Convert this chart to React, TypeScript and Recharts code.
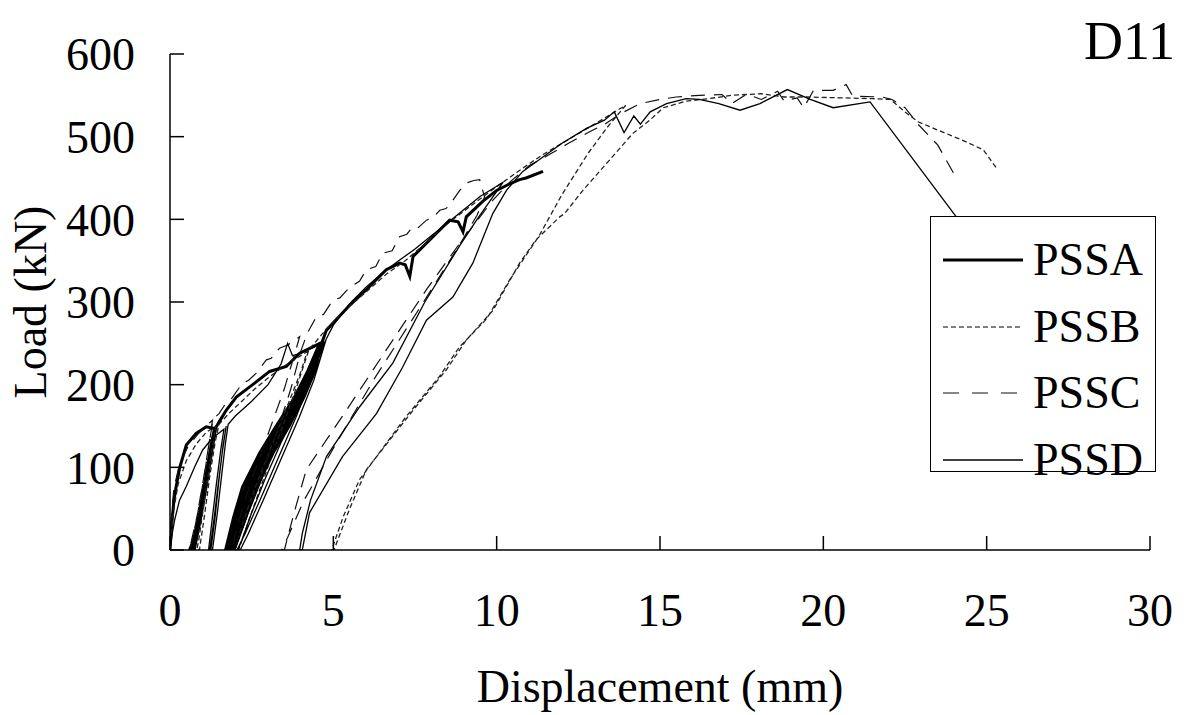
import React from 'react';
import { LineChart, Line, XAxis, YAxis, Legend, Label } from 'recharts';

const FONT = "'Liberation Serif', 'Times New Roman', serif";

const X_TICKS = [0, 5, 10, 15, 20, 25, 30];
const Y_TICKS = [0, 100, 200, 300, 400, 500, 600];

// displacement (mm), load (kN) pairs, in test order
const PSSA_RAW = [
  [0, 0], [0.05, 30], [0.12, 60], [0.19, 77], [0.3, 100], [0.5, 127], [0.8, 141], [1.11, 149], [1.36, 147],
  [1.25, 125], [1.1, 90], [0.9, 45], [0.72, 12], [0.6, 0], [0.68, 0], [0.85, 30], [1.05, 75], [1.22, 115], [1.36, 146],
  [1.28, 130], [1.15, 95], [0.95, 50], [0.78, 15], [0.66, 0], [0.74, 0], [0.92, 35], [1.12, 80], [1.28, 120], [1.4, 148],
  [1.55, 158], [1.72, 169], [2.03, 185], [2.53, 200], [3.05, 216], [3.56, 222], [3.97, 238], [4.48, 248], [4.58, 250],
  [4.2, 215], [3.76, 181], [3.25, 150], [2.74, 117], [2.22, 76], [1.95, 40], [1.7, 0],
  [1.78, 0], [2.1, 35], [2.45, 76], [2.95, 117], [3.45, 150], [3.95, 185], [4.3, 215], [4.6, 250],
  [4.28, 215], [3.85, 181], [3.35, 150], [2.84, 117], [2.32, 76], [2.03, 40], [1.78, 0],
  [1.86, 0], [2.18, 35], [2.55, 76], [3.05, 117], [3.55, 150], [4.03, 185], [4.36, 215], [4.63, 250],
  [4.35, 215], [3.93, 181], [3.45, 150], [2.94, 117], [2.42, 76], [2.12, 40], [1.86, 0],
  [1.94, 0], [2.27, 35], [2.65, 76], [3.15, 117], [3.65, 150], [4.1, 185], [4.42, 215], [4.66, 252],
  [4.79, 266], [5.5, 296], [6.01, 315], [6.62, 339], [7.03, 347], [7.2, 345], [7.34, 331], [7.44, 355],
  [8.05, 379], [8.56, 399], [8.82, 397], [8.97, 385], [9.07, 403], [9.58, 422], [10.0, 435], [10.4, 443],
  [10.7, 448], [10.9, 450], [11.42, 458],
];

const PSSB_RAW = [
  [0, 0], [0.1, 45], [0.25, 80], [0.5, 108], [0.8, 128], [1.1, 142], [1.4, 150],
  [1.3, 125], [1.15, 85], [1.0, 45], [0.88, 12], [0.82, 0], [0.9, 0], [1.05, 40], [1.22, 90], [1.38, 130], [1.5, 152],
  [1.8, 165], [2.2, 180], [2.6, 195], [3.0, 208], [3.4, 220], [3.8, 230], [4.2, 240],
  [4.0, 215], [3.6, 175], [3.1, 125], [2.6, 75], [2.2, 30], [2.0, 0], [2.1, 0], [2.45, 40], [2.95, 95],
  [3.45, 150], [3.9, 200], [4.25, 242],
  [4.8, 268], [5.4, 292], [6.0, 312], [6.6, 333], [7.2, 350], [7.8, 370], [8.4, 392], [9.0, 410], [9.6, 428],
  [10.2, 445], [10.8, 462], [11.4, 478], [12.0, 492], [12.6, 506], [13.2, 520], [13.7, 532], [13.95, 538],
  [13.4, 512], [12.8, 480], [12.0, 430], [11.3, 380], [10.4, 327], [9.7, 280], [8.85, 245], [8.25, 210],
  [7.2, 160], [5.8, 85], [5.3, 40], [4.95, 0],
  [5.02, 0], [5.5, 50], [6.01, 97], [7.44, 169], [8.46, 218], [9.07, 254], [9.89, 290], [10.7, 347], [11.2, 375],
  [11.93, 403], [12.08, 407], [12.64, 435], [13.46, 472], [14.17, 504], [14.69, 520], [15.1, 535], [15.8, 543],
  [16.5, 546], [17.2, 550], [18.1, 552], [18.8, 548], [19.5, 548], [20.5, 547], [21.5, 546], [22.05, 545],
  [22.5, 530], [22.9, 518], [23.5, 508], [24.3, 495], [24.9, 484], [25.3, 462],
];

const PSSC_RAW = [
  [0, 0], [0.04, 40], [0.12, 75], [0.3, 105], [0.55, 125], [0.85, 140], [1.1, 150], [1.3, 157],
  [1.2, 130], [1.05, 90], [0.85, 45], [0.65, 10], [0.55, 0], [0.62, 0], [0.8, 35], [1.0, 80], [1.18, 125], [1.32, 158],
  [1.5, 165], [1.72, 178], [1.9, 184], [2.22, 202], [2.4, 205], [2.64, 214], [2.95, 230], [3.1, 232],
  [3.35, 244], [3.6, 248], [3.97, 258],
  [3.8, 235], [3.5, 195], [3.0, 140], [2.5, 85], [2.1, 35], [1.9, 0], [1.98, 0], [2.3, 35], [2.75, 85],
  [3.25, 140], [3.7, 195], [4.0, 240], [4.2, 262],
  [4.48, 282], [4.7, 285], [4.98, 302], [5.2, 305], [5.5, 318], [5.8, 325], [6.01, 339], [6.3, 343],
  [6.51, 359], [6.8, 362], [7.03, 379], [7.25, 382], [7.43, 391], [7.6, 390], [7.85, 399], [8.05, 402],
  [8.26, 411], [8.45, 413], [8.66, 423], [8.87, 435], [9.07, 444], [9.3, 447], [9.48, 448], [9.63, 427],
  [9.4, 405], [8.8, 365], [7.6, 290], [6.3, 210], [5.1, 130], [4.1, 60], [3.6, 15], [3.42, 0],
  [3.5, 0], [3.8, 45], [4.17, 97], [5.4, 169], [6.62, 242], [7.85, 315], [8.87, 371], [9.88, 423],
  [10.4, 445], [11.0, 465], [11.6, 478], [12.2, 492], [12.8, 505], [13.3, 515], [13.8, 528], [14.4, 540],
  [15.0, 545], [15.5, 548], [16.2, 550], [16.9, 551], [17.2, 540], [17.6, 550], [17.9, 548], [18.1, 545],
  [18.6, 555], [18.8, 543], [19.2, 547], [19.4, 535], [19.7, 556], [20.3, 556], [20.7, 563], [20.9, 549],
  [21.8, 548], [22.1, 545], [22.5, 535], [22.9, 515], [23.5, 490], [24.1, 448],
];

const PSSD_RAW = [
  [0, 0], [0.07, 20], [0.14, 36], [0.29, 60], [0.5, 77], [0.75, 100], [1.0, 121], [1.25, 133], [1.45, 140], [1.65, 146],
  [1.55, 120], [1.42, 80], [1.3, 40], [1.18, 0], [1.25, 0], [1.38, 40], [1.5, 85], [1.62, 125], [1.72, 150],
  [1.6, 118], [1.47, 78], [1.35, 38], [1.22, 0], [1.3, 0], [1.45, 45], [1.58, 90], [1.7, 130], [1.78, 152],
  [2.0, 162], [2.5, 180], [3.0, 200], [3.4, 225], [3.6, 250], [3.75, 235], [4.0, 238], [4.4, 245], [4.7, 252],
  [4.55, 235], [4.3, 210], [3.85, 175], [3.3, 130], [2.8, 85], [2.4, 45], [2.1, 12], [1.98, 0],
  [2.05, 0], [2.3, 20], [2.75, 60], [3.3, 110], [3.85, 160], [4.3, 205], [4.72, 252],
  [4.6, 232], [4.35, 207], [3.95, 175], [3.4, 130], [2.9, 85], [2.5, 45], [2.2, 12], [2.08, 0],
  [2.15, 0], [2.4, 20], [2.85, 60], [3.4, 110], [3.95, 160], [4.4, 205], [4.78, 255],
  [5.0, 272], [5.5, 298], [6.0, 318], [6.5, 335], [7.0, 350], [7.5, 364], [8.0, 380], [8.5, 396], [9.0, 412],
  [9.5, 428], [10.0, 440], [10.2, 445],
  [9.9, 428], [9.4, 400], [8.9, 370], [7.8, 300], [6.82, 226], [5.8, 173], [4.79, 113], [4.3, 60], [4.05, 20], [3.97, 0],
  [4.05, 0], [4.27, 45], [5.28, 113], [6.32, 165], [7.12, 221], [7.85, 278], [8.66, 306], [9.27, 347],
  [9.88, 407], [10.3, 435], [10.8, 458], [11.3, 472], [12.0, 492], [12.75, 510], [13.3, 520], [13.6, 530],
  [13.9, 505], [14.2, 525], [14.4, 515], [14.7, 530], [15.2, 540], [15.8, 546], [16.2, 545], [16.8, 540],
  [17.45, 532], [18.06, 540], [18.9, 557], [19.6, 545], [20.3, 535], [21.43, 542], [24.03, 405], [24.6, 375],
];

const toPts = (a: number[][]) => a.map(([x, y]) => ({ x, y }));

const SERIES = [
  { name: 'PSSA', data: toPts(PSSA_RAW), stroke: '#000', width: 3, dash: undefined },
  { name: 'PSSB', data: toPts(PSSB_RAW), stroke: '#222', width: 1.3, dash: '5 3' },
  { name: 'PSSC', data: toPts(PSSC_RAW), stroke: '#111', width: 1.2, dash: '14 9' },
  { name: 'PSSD', data: toPts(PSSD_RAW), stroke: '#000', width: 1.3, dash: undefined },
];

const LegendBox = () => (
  <div
    style={{
      boxSizing: 'border-box',
      width: 226,
      height: 256,
      border: '1.5px solid #000',
      background: '#fff',
      paddingTop: 10,
      fontFamily: FONT,
      fontSize: 46,
    }}
  >
    {SERIES.map((s) => (
      <div key={s.name} style={{ display: 'flex', alignItems: 'center', height: 66.5 }}>
        <svg width={100} height={20}>
          <line
            x1={12}
            x2={92}
            y1={10}
            y2={10}
            stroke={s.name === 'PSSB' ? '#555' : s.stroke}
            strokeWidth={s.width}
            strokeDasharray={s.name === 'PSSC' ? '16 13' : s.dash}
          />
        </svg>
        <span style={{ marginLeft: 2, lineHeight: 1 }}>{s.name}</span>
      </div>
    ))}
  </div>
);

export default function App() {
  return (
    <div style={{ position: 'absolute', left: 0, top: 0, width: 1189, height: 715, background: '#fff' }}>
      <LineChart width={1189} height={715} margin={{ top: 54, right: 39, bottom: 0, left: 0 }}>
        <XAxis
          dataKey="x"
          type="number"
          domain={[0, 30]}
          ticks={X_TICKS}
          allowDataOverflow
          height={165}
          stroke="#000"
          strokeWidth={1.5}
          tickSize={-14}
          tickMargin={57}
          tick={{ fill: '#000', fontSize: 46, fontFamily: FONT }}
        >
          <Label
            value="Displacement (mm)"
            position="insideBottom"
            offset={13}
            style={{ fill: '#000', fontSize: 46, fontFamily: FONT }}
          />
        </XAxis>
        <YAxis
          type="number"
          domain={[0, 600]}
          ticks={Y_TICKS}
          allowDataOverflow
          width={170}
          stroke="#000"
          strokeWidth={1.5}
          tickSize={-14}
          tickMargin={49}
          tick={{ fill: '#000', fontSize: 46, fontFamily: FONT }}
        >
          <Label
            value="Load (kN)"
            angle={-90}
            position="insideLeft"
            offset={30}
            style={{ fill: '#000', fontSize: 46, fontFamily: FONT, textAnchor: 'middle' }}
          />
        </YAxis>
        {SERIES.map((s) => (
          <Line
            key={s.name}
            data={s.data}
            dataKey="y"
            name={s.name}
            type="linear"
            stroke={s.stroke}
            strokeWidth={s.width}
            strokeDasharray={s.dash}
            dot={false}
            activeDot={false}
            isAnimationActive={false}
          />
        ))}
        <Legend
          layout="horizontal"
          verticalAlign="middle"
          align="center"
          content={() => <LegendBox />}
          wrapperStyle={{ left: 930, top: 216, width: 226, height: 256 }}
        />
      </LineChart>
      <div
        style={{
          position: 'absolute',
          left: 1084,
          top: 14,
          fontFamily: FONT,
          fontSize: 54,
          lineHeight: 1,
        }}
      >
        D11
      </div>
    </div>
  );
}
